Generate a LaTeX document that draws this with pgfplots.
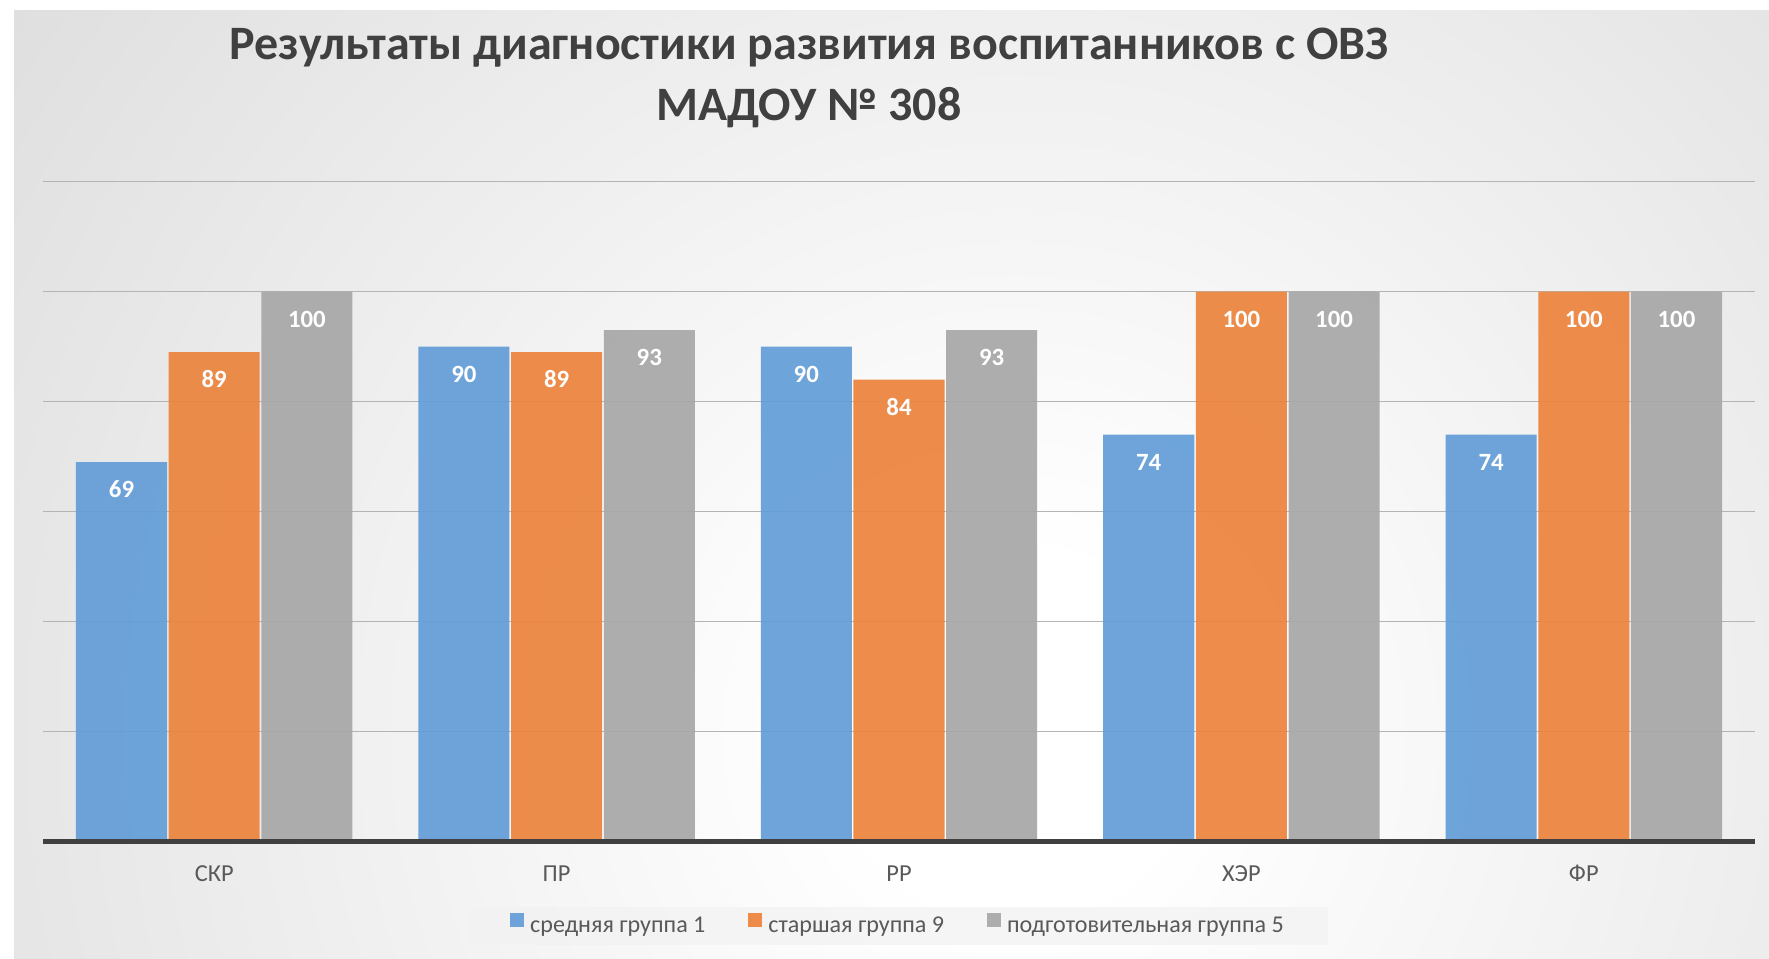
\documentclass[border=0pt]{standalone}
\usepackage{pgfplots}
\pgfplotsset{compat=1.18}
\usepackage{fontspec}
\setmainfont{Carlito}
\definecolor{cblue}{HTML}{629DD7}
\definecolor{corange}{HTML}{EC833C}
\definecolor{cgray}{HTML}{A7A7A7}
\definecolor{titlec}{HTML}{404040}
\definecolor{labc}{HTML}{595959}
\definecolor{gridc}{HTML}{B4B4B4}
\definecolor{axisc}{HTML}{404040}
\definecolor{bgout}{HTML}{C2C2C2}
\definecolor{legfill}{HTML}{F2F2F2}
\pgfdeclareradialshading{bgshade}{\pgfpoint{0bp}{0bp}}{color(0bp)=(white); color(4bp)=(white); color(50bp)=(bgout)}
\begin{document}
\begin{tikzpicture}[x=1pt,y=1pt]
\fill[white] (0,0) rectangle (884.5,479.5);
\begin{scope}
\clip (7,0) rectangle (884.5,474);
\shade[shading=bgshade] (-43,-437) rectangle (1057,663);
\end{scope}
\node[anchor=base, text=titlec, font=\bfseries\fontsize{24}{28}\selectfont, inner sep=0pt] at (404.5,449.5) {Результаты диагностики развития воспитанников с ОВЗ};
\node[anchor=base, text=titlec, font=\bfseries\fontsize{24}{28}\selectfont, inner sep=0pt] at (404.5,419) {МАДОУ № 308};
\begin{axis}[
  at={(21.5pt,58.65pt)}, anchor=south west,
  scale only axis, width=856pt, height=330pt,
  clip=false,
  xmin=-0.5, xmax=4.5, ymin=0, ymax=120,
  xtick={0,1,2,3,4}, xticklabels={СКР,ПР,РР,ХЭР,ФР},
  ytick={0,20,...,120}, yticklabels={},
  ymajorgrids, grid style={line width=0.75pt, color=gridc},
  axis x line*=bottom, axis y line*=left,
  axis line style={draw=none},
  major tick length=0pt,
  xticklabel style={anchor=base, yshift=-20pt, font=\fontsize{12.2}{14}\selectfont, text=labc},
  ybar, bar width=0.266,
  /pgf/number format/assume math mode=true,
  nodes near coords,
  nodes near coords style={font=\bfseries\fontsize{12.4}{14}\selectfont, text=white, text opacity=1, anchor=base, yshift=-17.8pt},
  legend columns=3,
  legend style={at={(0.5,-0.1277)}, anchor=center, draw=none, fill=legfill, fill opacity=0.7, text opacity=1,
    inner xsep=20pt, inner ysep=3pt, font=\fontsize{12.05}{14}\selectfont, text=labc,
    /tikz/every even column/.append style={column sep=19.5pt},
    /tikz/every odd column/.append style={column sep=1pt}},
  legend image code/.code={\fill[#1] (0pt,-0.3pt) rectangle (7pt,6.7pt);},
]
\addplot[fill=cblue, draw=none, fill opacity=0.92, bar shift=-0.2707] coordinates {(0,69) (1,90) (2,90) (3,74) (4,74)};
\addplot[fill=corange, draw=none, fill opacity=0.92, bar shift=0] coordinates {(0,89) (1,89) (2,84) (3,100) (4,100)};
\addplot[fill=cgray, draw=none, fill opacity=0.92, bar shift=0.2707] coordinates {(0,100) (1,93) (2,93) (3,100) (4,100)};
\legend{средняя группа 1, старшая группа 9, подготовительная группа 5}
\draw[axisc, line width=2.2pt] (rel axis cs:0,0) -- (rel axis cs:1,0);
\end{axis}
\end{tikzpicture}
\end{document}
